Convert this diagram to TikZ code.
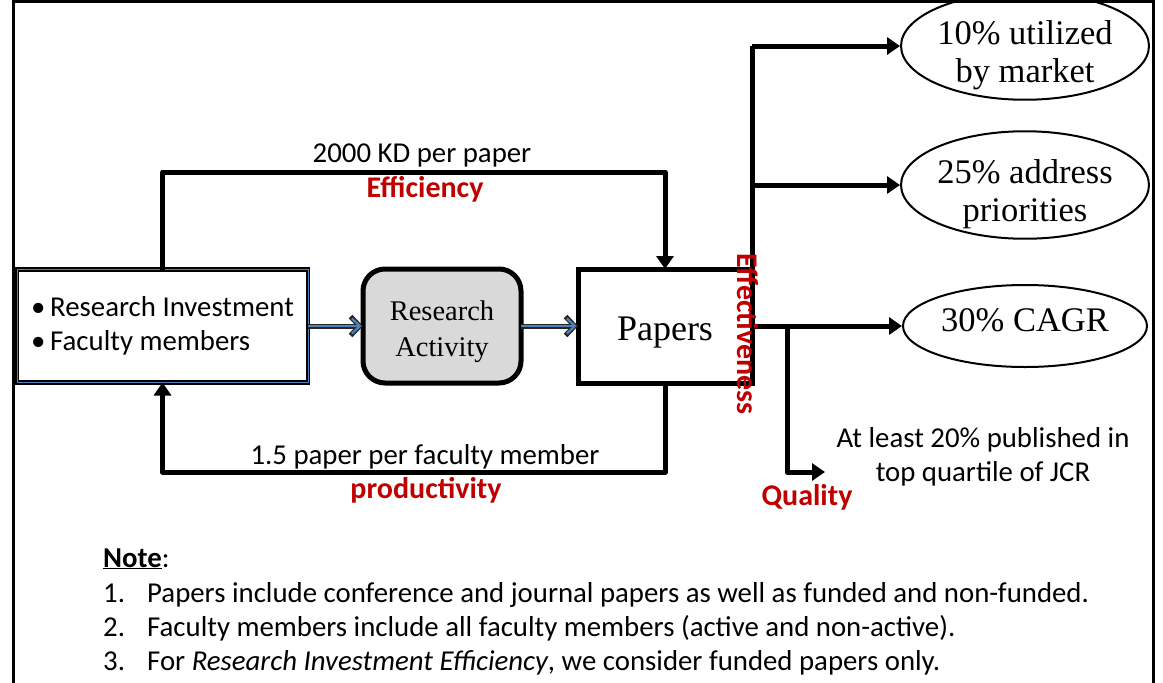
\documentclass[tikz,border=0pt]{standalone}
\usepackage{fontspec}
\setmainfont{Liberation Serif}
\newfontfamily\calib{Carlito}
\usetikzlibrary{arrows.meta,shapes.geometric}
\definecolor{labred}{RGB}{192,0,0}
\definecolor{offblue}{RGB}{79,129,189}
\newcommand{\shiftbox}[2]{\raisebox{#1}[\height][\depth]{#2}}
\newcommand{\twolines}[3]{\shiftbox{#1}{\setlength{\tabcolsep}{0pt}\begin{tabular}{c}#2\\#3\end{tabular}}}
\begin{document}
\begin{tikzpicture}[x=1pt,y=-1pt,
  conn/.style={line width=5pt, line join=round, -{Triangle[length=13pt,width=17pt]}},
  plain/.style={line width=5pt, line join=round},
  lab/.style={font=\calib\fontsize{28.8}{34}\selectfont, inner sep=0pt},
  redlab/.style={font=\calib\bfseries\fontsize{30}{34}\selectfont, text=labred, inner sep=0pt},
  notefont/.style={font=\calib\fontsize{28.8}{34}\selectfont, inner sep=0pt},
  oval/.style={ellipse, draw, line width=2pt, minimum width=244pt, minimum height=82pt, inner sep=0pt, align=center, font=\fontsize{34.5}{38}\selectfont},
  bluearrow/.style={line width=5pt, black!85, -{Straight Barb[length=9pt,width=19pt]}},
  bluecore/.style={line width=2.2pt, offblue, -{Straight Barb[length=8pt,width=15pt]}, shorten >=1.5pt},
]
\useasboundingbox (0,0) rectangle (1163,683);
\draw[line width=3pt] (13,683) -- (13,1.5) -- (1153,1.5) -- (1153,683);

% boxes
\node[draw, line width=1.7pt, double=offblue, double distance=1pt, minimum width=291pt, minimum height=113pt, outer sep=0pt, align=left, lab] (inbox) at (162.5,326) {\textbullet\,Research Investment\\ \textbullet\,Faculty members};
\node[draw, line width=5pt, rounded corners=22pt, fill=black!15, minimum width=158pt, minimum height=114pt, outer sep=0pt, font=\fontsize{28.5}{36}\selectfont] (act) at (442,326) {\twolines{-5pt}{Research}{Activity}};
\node[draw, line width=5pt, minimum width=174pt, minimum height=114pt, outer sep=0pt, font=\fontsize{36}{40}\selectfont] (pap) at (665,326) {\shiftbox{-7pt}{Papers}};

% ellipses
\node[oval] (o1) at (1025,46) {\twolines{-9.5pt}{10\% utilized}{by market}};
\node[oval] (o2) at (1025,185) {\twolines{-10pt}{25\% address}{priorities}};
\node[oval] (o3) at (1025,326) {\shiftbox{6pt}{30\% CAGR}};

% blue arrows
\draw[bluearrow] (inbox.east) -- (act.west);
\draw[bluecore] (inbox.east) -- (act.west);
\draw[bluearrow] (act.east) -- (pap.west);
\draw[bluecore] (act.east) -- (pap.west);

% efficiency loop
\coordinate (etop) at (0,172);
\draw[conn] (inbox.north) -- (inbox.north |- etop) -- (pap.north |- etop) -- (pap.north);
% productivity loop
\coordinate (pbot) at (0,472);
\draw[conn] (pap.south) -- (pap.south |- pbot) -- (inbox.south |- pbot) -- (inbox.south);

% effectiveness trunk
\coordinate (t1) at (752,46);
\coordinate (t2) at (752,185);
\draw[plain] (pap.south east) -- (t1);
\draw[conn] (t1) -- (o1.west);
\draw[conn] (t2) -- (o2.west);
\draw[conn] (pap.east) -- (o3.west);
\coordinate (q1) at (787,326);
\coordinate (q2) at (825,472);
\draw[conn] (q1) -- (q1 |- q2) -- (q2);

% labels
\node[lab] (kd) at (422,155) {2000 KD per paper};
\node[redlab] (eff) at (425,189) {Efficiency};
\node[lab] (pp) at (425,457) {1.5 paper per faculty member};
\node[redlab] (prod) at (426,490) {productivity};
\node[redlab, rotate=-90] (effe) at (748,334) {Effectiveness};
\node[redlab] (qual) at (807,497) {Quality};
\node[lab, align=center] (jcr) at (983,457) {At least 20\% published in\\top quartile of JCR};

% note
\node[notefont, anchor=base west] (note) at (103,567) {\underline{\textbf{Note}}:};
\node[notefont, anchor=base west] (n1) at (103,602) {1.};
\node[notefont, anchor=base west] (n1t) at (147,602) {Papers include conference and journal papers as well as funded and non-funded.};
\node[notefont, anchor=base west] (n2) at (103,636) {2.};
\node[notefont, anchor=base west] (n2t) at (147,636) {Faculty members include all faculty members (active and non-active).};
\node[notefont, anchor=base west] (n3) at (103,670) {3.};
\node[notefont, anchor=base west] (n3t) at (147,670) {For \textit{Research Investment Efficiency}, we consider funded papers only.};
\end{tikzpicture}
\end{document}
